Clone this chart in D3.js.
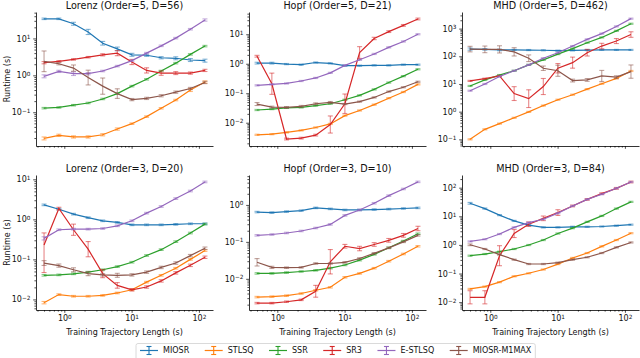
<!DOCTYPE html>
<html>
<head>
<meta charset="utf-8">
<script src="https://cdnjs.cloudflare.com/ajax/libs/d3/7.8.5/d3.min.js"></script>
<style>
  body { margin: 0; background: #fff; }
  svg { display: block; font-family: "DejaVu Sans", sans-serif; }
</style>
</head>
<body>
<svg id="chart"></svg>
<script>
const methods = ["MIOSR", "STLSQ", "SSR", "SR3", "E-STLSQ", "MIOSR-M1MAX"];
const colors = ["#1f77b4", "#ff7f0e", "#2ca02c", "#d62728", "#9467bd", "#8c564b"];
const trainLength = [0.5, 0.83, 1.37, 2.26, 3.72, 6.13, 10.1, 16.7, 27.5, 45.3, 74.7, 123];

// runtime (s), one row per method in the order above
const lorenz5 = [
    [34, 34, 25, 15, 7.4, 5.2, 3.6, 3.5, 3.0, 2.9, 2.6, 2.5],
    [0.0195, 0.0237, 0.0214, 0.0214, 0.0245, 0.035, 0.049, 0.076, 0.128, 0.214, 0.40, 0.66],
    [0.129, 0.135, 0.155, 0.178, 0.229, 0.32, 0.51, 0.78, 1.31, 2.14, 3.7, 6.2],
    [2.2, 2.4, 2.7, 3.1, 3.6, 4.0, 2.3, 1.36, 1.15, 1.15, 1.15, 1.36],
    [0.94, 1.28, 1.11, 1.11, 1.31, 1.78, 2.5, 4.0, 6.3, 10.2, 17.8, 31.6],
    [2.4, 2.06, 1.57, 0.87, 0.51, 0.32, 0.22, 0.237, 0.28, 0.35, 0.44, 0.64]
];
// error bar half-width in decades ([down, up] where lopsided)
const lorenz5Err = [
    [0.02, 0.02, 0.04, 0.07, 0.05, 0.05, 0.04, 0.03, 0.03, 0.04, 0.04, 0.04],
    [0.04, 0.03, 0.03, 0.03, 0.03, 0.03, 0.02, 0.02, 0.02, 0.02, 0.04, 0.03],
    [0.02, 0.02, 0.02, 0.02, 0.02, 0.02, 0.02, 0.02, 0.02, 0.02, 0.02, 0.02],
    [0.03, 0.02, 0.02, 0.02, 0.03, 0.07, 0.07, 0.07, 0.06, 0.04, 0.03, 0.03],
    [0.04, 0.03, 0.05, 0.03, 0.02, 0.02, 0.02, 0.02, 0.02, 0.02, 0.02, 0.03],
    [0.28, 0.03, 0.085, 0.2, 0.22, 0.13, 0.03, 0.03, 0.03, 0.03, 0.03, 0.03]
];

const hopf5 = [
    [1.05, 1.05, 0.975, 0.93, 1.1, 1.03, 0.86, 0.86, 0.88, 0.88, 0.93, 0.93],
    [0.0039, 0.0041, 0.0047, 0.0055, 0.0069, 0.0091, 0.0174, 0.026, 0.041, 0.068, 0.11, 0.20],
    [0.027, 0.029, 0.032, 0.033, 0.038, 0.044, 0.060, 0.085, 0.135, 0.23, 0.38, 0.65],
    [1.8, 0.21, 0.0028, 0.003, 0.0038, 0.0087, 0.044, 2.4, 7.2, 12.3, 20, 33],
    [0.185, 0.2, 0.215, 0.26, 0.33, 0.49, 0.88, 1.36, 2.15, 3.6, 5.7, 10],
    [0.043, 0.034, 0.033, 0.036, 0.044, 0.049, 0.043, 0.052, 0.072, 0.114, 0.16, 0.245]
];
const hopf5Err = [
    [0.03, 0.03, 0.02, 0.02, 0.02, 0.02, 0.02, 0.02, 0.02, 0.02, 0.02, 0.02],
    [0.02, 0.02, 0.02, 0.02, 0.02, 0.02, 0.02, 0.02, 0.02, 0.02, 0.02, 0.02],
    [0.02, 0.02, 0.02, 0.02, 0.02, 0.02, 0.02, 0.02, 0.02, 0.02, 0.02, 0.02],
    [0.03, 0.36, 0.03, 0.03, 0.03, 0.29, 0.33, 0.2, 0.04, 0.03, 0.03, 0.03],
    [0.02, 0.02, 0.02, 0.02, 0.02, 0.02, 0.02, 0.02, 0.02, 0.02, 0.02, 0.02],
    [0.05, 0.03, 0.03, 0.03, 0.03, 0.03, 0.02, 0.02, 0.02, 0.02, 0.02, 0.02]
];

const mhd5 = [
    [182, 178, 170, 170, 168, 165, 160, 163, 168, 170, 170, 170],
    [0.1, 0.23, 0.37, 0.6, 0.98, 1.66, 2.7, 4.1, 6.5, 10.2, 16, 29.5],
    [8.5, 14, 21, 30, 49, 74, 120, 190, 310, 480, 830, 1500],
    [12.9, 15.5, 19.5, 4.5, 2.95, 8.1, 37, 59, 135, 234, 355, 610],
    [5.7, 10, 18.6, 30, 49, 85, 135, 234, 407, 660, 1200, 2290],
    [182, 178, 178, 145, 85, 37, 30, 13.3, 14, 19.5, 17.6, 28]
];
const mhd5Err = [
    [0.04, 0.03, 0.03, 0.02, 0.02, 0.02, 0.02, 0.02, 0.02, 0.02, 0.02, 0.02],
    [0.02, 0.02, 0.02, 0.02, 0.02, 0.02, 0.02, 0.02, 0.02, 0.02, 0.02, 0.02],
    [0.02, 0.02, 0.02, 0.02, 0.02, 0.02, 0.02, 0.02, 0.02, 0.02, 0.02, 0.02],
    [0.02, 0.02, 0.02, 0.25, 0.32, 0.29, 0.17, 0.2, 0.12, 0.1, 0.09, 0.1],
    [0.02, 0.02, 0.02, 0.02, 0.02, 0.02, 0.02, 0.02, 0.02, 0.02, 0.02, 0.02],
    [0.1, 0.12, 0.13, 0.15, 0.12, 0.08, 0.2, 0.05, 0.05, 0.2, 0.05, 0.24]
];

const lorenz3 = [
    [2.3, 1.79, 1.35, 1.1, 0.92, 0.84, 0.73, 0.73, 0.73, 0.75, 0.776, 0.776],
    [0.0083, 0.0132, 0.012, 0.012, 0.0126, 0.0145, 0.0174, 0.027, 0.04, 0.06, 0.10, 0.166],
    [0.04, 0.041, 0.0436, 0.048, 0.055, 0.066, 0.085, 0.125, 0.175, 0.277, 0.455, 0.76],
    [0.23, 1.87, 0.55, 0.18, 0.044, 0.0224, 0.0174, 0.0204, 0.029, 0.046, 0.071, 0.113],
    [0.335, 0.55, 0.57, 0.57, 0.59, 0.69, 0.92, 1.43, 2.09, 3.3, 5.1, 8.6],
    [0.081, 0.07, 0.055, 0.044, 0.041, 0.04, 0.041, 0.048, 0.063, 0.081, 0.124, 0.19]
];
const lorenz3Err = [
    [0.02, 0.02, 0.02, 0.02, 0.02, 0.02, 0.02, 0.02, 0.02, 0.02, 0.02, 0.02],
    [0.03, 0.02, 0.02, 0.02, 0.02, 0.02, 0.02, 0.02, 0.02, 0.02, 0.02, 0.02],
    [0.02, 0.02, 0.02, 0.02, 0.02, 0.02, 0.02, 0.02, 0.02, 0.02, 0.02, 0.02],
    [[0.69, 0.3], 0.03, 0.14, 0.19, 0.1, 0.07, 0.03, 0.03, 0.03, 0.03, 0.03, 0.03],
    [0.04, 0.02, 0.02, 0.02, 0.02, 0.02, 0.02, 0.02, 0.02, 0.02, 0.02, 0.02],
    [0.06, 0.04, 0.05, 0.05, 0.03, 0.05, 0.03, 0.03, 0.03, 0.03, 0.03, 0.03]
];

const hopf3 = [
    [0.64, 0.62, 0.66, 0.70, 0.83, 0.78, 0.73, 0.73, 0.75, 0.77, 0.80, 0.83],
    [0.0032, 0.0033, 0.0035, 0.004, 0.0049, 0.0059, 0.011, 0.014, 0.0194, 0.030, 0.047, 0.076],
    [0.014, 0.014, 0.0148, 0.0158, 0.017, 0.0194, 0.0237, 0.032, 0.046, 0.069, 0.105, 0.166],
    [0.0022, 0.0022, 0.0024, 0.0027, 0.0046, 0.029, 0.076, 0.066, 0.085, 0.11, 0.15, 0.23],
    [0.15, 0.158, 0.174, 0.197, 0.237, 0.297, 0.52, 0.73, 1.11, 1.78, 2.7, 4.2],
    [0.028, 0.0204, 0.02, 0.0204, 0.026, 0.026, 0.028, 0.0355, 0.049, 0.069, 0.1, 0.15]
];
const hopf3Err = [
    [0.02, 0.02, 0.02, 0.02, 0.02, 0.02, 0.02, 0.02, 0.02, 0.02, 0.02, 0.02],
    [0.02, 0.02, 0.02, 0.02, 0.02, 0.02, 0.02, 0.02, 0.02, 0.02, 0.02, 0.02],
    [0.02, 0.02, 0.02, 0.02, 0.02, 0.02, 0.02, 0.02, 0.02, 0.02, 0.02, 0.02],
    [0.02, 0.02, 0.02, 0.02, 0.16, 0.33, 0.05, 0.06, 0.05, 0.05, 0.05, 0.06],
    [0.02, 0.02, 0.02, 0.02, 0.02, 0.02, 0.02, 0.02, 0.02, 0.02, 0.02, 0.02],
    [0.1, 0.03, 0.02, 0.02, 0.02, 0.02, 0.02, 0.02, 0.02, 0.02, 0.02, 0.02]
];

const mhd3 = [
    [28.5, 18.6, 11, 6.9, 4.9, 4.1, 4.1, 4.3, 4.3, 4.4, 4.7, 5.1],
    [0.029, 0.035, 0.05, 0.08, 0.102, 0.138, 0.214, 0.35, 0.52, 0.89, 1.48, 2.57],
    [0.42, 0.48, 0.58, 0.72, 0.99, 1.48, 2.5, 3.85, 6.4, 10.3, 18.6, 32],
    [0.0148, 0.0148, 0.42, 2.5, 5.3, 8.5, 13.5, 23, 39, 62, 95, 158],
    [1.32, 1.58, 2.4, 4.1, 6.0, 7.9, 12.9, 23, 39, 59, 95, 158],
    [1.01, 0.72, 0.46, 0.305, 0.215, 0.215, 0.24, 0.305, 0.37, 0.52, 0.82, 1.22]
];
const mhd3Err = [
    [0.03, 0.02, 0.02, 0.02, 0.02, 0.02, 0.02, 0.02, 0.02, 0.02, 0.02, 0.02],
    [0.02, 0.02, 0.02, 0.02, 0.02, 0.02, 0.02, 0.02, 0.02, 0.02, 0.02, 0.02],
    [0.02, 0.02, 0.02, 0.02, 0.02, 0.02, 0.02, 0.02, 0.02, 0.02, 0.02, 0.02],
    [0.23, 0.23, 0.35, 0.14, 0.08, 0.08, 0.1, 0.03, 0.03, 0.03, 0.03, 0.03],
    [0.02, 0.02, 0.02, 0.02, 0.02, 0.02, 0.02, 0.02, 0.02, 0.02, 0.02, 0.02],
    [0.03, 0.02, 0.02, 0.02, 0.02, 0.02, 0.02, 0.02, 0.02, 0.02, 0.02, 0.02]
];

const panels = [
    { title: "Lorenz (Order=5, D=56)", runtime: lorenz5, err: lorenz5Err },
    { title: "Hopf (Order=5, D=21)", runtime: hopf5, err: hopf5Err },
    { title: "MHD (Order=5, D=462)", runtime: mhd5, err: mhd5Err },
    { title: "Lorenz (Order=3, D=20)", runtime: lorenz3, err: lorenz3Err },
    { title: "Hopf (Order=3, D=10)", runtime: hopf3, err: hopf3Err },
    { title: "MHD (Order=3, D=84)", runtime: mhd3, err: mhd3Err }
];

const width = 640;
const height = 358;
const axW = 177;
const lefts = [36, 249, 462];
const rows = [{ top: 12, bottom: 146 }, { top: 175, bottom: 310 }];
const fontSize = 8;

const svg = d3.select("#chart").attr("width", width).attr("height", height);

// log extent padded by 5% like matplotlib autoscale
function paddedLog(lo, hi) {
    const pad = (hi - lo) * 0.05;
    return [10 ** (lo - pad), 10 ** (hi + pad)];
}

function logTicks(domain) {
    const major = [], minor = [];
    const a = Math.floor(Math.log10(domain[0])), b = Math.ceil(Math.log10(domain[1]));
    for (let e = a; e <= b; e++) {
        for (let k = 1; k < 10; k++) {
            const v = k * 10 ** e;
            if (v < domain[0] * 0.9999 || v > domain[1] * 1.0001) continue;
            (k === 1 ? major : minor).push(v);
        }
    }
    return { major, minor };
}

function powLabel(sel) {
    sel.each(function (d) {
        const e = Math.round(Math.log10(d));
        const t = d3.select(this).text(null);
        t.append("tspan").text("10");
        t.append("tspan").attr("dy", "-0.45em").attr("font-size", "0.72em")
            .text(String(e).replace("-", "\u2212"));
    });
}

const errDown = e => Array.isArray(e) ? e[0] : e;
const errUp = e => Array.isArray(e) ? e[1] : e;

const xDomain = paddedLog(Math.log10(d3.min(trainLength)), Math.log10(d3.max(trainLength)));

panels.forEach((p, i) => {
    const col = i % 3, row = Math.floor(i / 3);
    const x0 = lefts[col];
    const { top, bottom } = rows[row];

    let lo = Infinity, hi = -Infinity;
    p.runtime.forEach((s, k) => s.forEach((v, j) => {
        lo = Math.min(lo, Math.log10(v) - errDown(p.err[k][j]));
        hi = Math.max(hi, Math.log10(v) + errUp(p.err[k][j]));
    }));

    const x = d3.scaleLog().domain(xDomain).range([x0, x0 + axW]);
    const y = d3.scaleLog().domain(paddedLog(lo, hi)).range([bottom, top]);

    const g = svg.append("g");

    const yt = logTicks(y.domain());
    const xt = logTicks(x.domain());

    g.append("g")
        .attr("transform", `translate(${x0},0)`)
        .call(d3.axisLeft(y).tickValues(yt.minor).tickSize(1.6).tickSizeOuter(0).tickFormat(""))
        .call(a => a.select(".domain").remove());
    const yAxis = g.append("g")
        .attr("transform", `translate(${x0},0)`)
        .call(d3.axisLeft(y).tickValues(yt.major).tickSize(2.8).tickSizeOuter(0).tickPadding(2.8));
    yAxis.selectAll(".tick text").call(powLabel);

    g.append("g")
        .attr("transform", `translate(0,${bottom})`)
        .call(d3.axisBottom(x).tickValues(xt.minor).tickSize(1.6).tickSizeOuter(0).tickFormat(""))
        .call(a => a.select(".domain").remove());
    const xAxis = g.append("g")
        .attr("transform", `translate(0,${bottom})`)
        .call(d3.axisBottom(x).tickValues(xt.major).tickSize(2.8).tickSizeOuter(0).tickPadding(2.8));
    if (row === 1) xAxis.selectAll(".tick text").call(powLabel);
    else xAxis.selectAll(".tick text").remove();

    g.selectAll(".domain").attr("stroke", "#000").attr("stroke-width", 0.8);
    g.selectAll(".tick line").attr("stroke", "#000").attr("stroke-width", 0.7);
    g.selectAll(".tick text").attr("font-size", fontSize).attr("fill", "#111")
        .attr("font-family", "DejaVu Sans");

    g.append("text")
        .attr("x", x0 + axW / 2).attr("y", top - 3)
        .attr("text-anchor", "middle")
        .attr("font-size", 9.6).attr("fill", "#111")
        .text(p.title);

    if (col === 0) {
        g.append("text")
            .attr("transform", `translate(10,${(top + bottom) / 2}) rotate(-90)`)
            .attr("text-anchor", "middle")
            .attr("font-size", fontSize).attr("fill", "#111")
            .text("Runtime (s)");
    }
    if (row === 1) {
        g.append("text")
            .attr("x", x0 + axW / 2).attr("y", 334.5)
            .attr("text-anchor", "middle")
            .attr("font-size", fontSize).attr("fill", "#111")
            .text("Training Trajectory Length (s)");
    }

    // series with error bars
    const line = d3.line().x(d => x(d.t)).y(d => y(d.v));
    p.runtime.forEach((s, k) => {
        const pts = s.map((v, j) => ({
            t: trainLength[j], v,
            lo: v / 10 ** errDown(p.err[k][j]),
            hi: v * 10 ** errUp(p.err[k][j])
        }));
        const sg = g.append("g");
        sg.append("path")
            .datum(pts)
            .attr("d", line)
            .attr("fill", "none")
            .attr("stroke", colors[k])
            .attr("stroke-width", 1.2);
        const eb = sg.selectAll(".eb").data(pts).enter().append("g")
            .attr("stroke", colors[k])
            .attr("stroke-opacity", 0.55)
            .attr("stroke-width", 1.1);
        eb.append("line")
            .attr("x1", d => x(d.t)).attr("x2", d => x(d.t))
            .attr("y1", d => y(d.lo)).attr("y2", d => y(d.hi));
        eb.append("line")
            .attr("x1", d => x(d.t) - 2.5).attr("x2", d => x(d.t) + 2.5)
            .attr("y1", d => y(d.lo)).attr("y2", d => y(d.lo));
        eb.append("line")
            .attr("x1", d => x(d.t) - 2.5).attr("x2", d => x(d.t) + 2.5)
            .attr("y1", d => y(d.hi)).attr("y2", d => y(d.hi));
    });
});

// legend
const legend = svg.append("g");
const box = legend.append("rect")
    .attr("y", 343.5).attr("height", 20).attr("rx", 2)
    .attr("fill", "#fff").attr("stroke", "#d0d0d0").attr("stroke-width", 0.8);
let cx = 0;
const items = [];
methods.forEach((m, k) => {
    const it = legend.append("g");
    it.append("line").attr("x1", 0).attr("x2", 18).attr("y1", 350.5).attr("y2", 350.5)
        .attr("stroke", colors[k]).attr("stroke-width", 1.2);
    it.append("line").attr("x1", 9).attr("x2", 9).attr("y1", 346.5).attr("y2", 354.5)
        .attr("stroke", colors[k]).attr("stroke-width", 1.1);
    it.append("line").attr("x1", 6.5).attr("x2", 11.5).attr("y1", 346.5).attr("y2", 346.5)
        .attr("stroke", colors[k]).attr("stroke-width", 1.1);
    it.append("line").attr("x1", 6.5).attr("x2", 11.5).attr("y1", 354.5).attr("y2", 354.5)
        .attr("stroke", colors[k]).attr("stroke-width", 1.1);
    const t = it.append("text").attr("x", 23).attr("y", 353.3)
        .attr("font-size", fontSize).attr("fill", "#111").text(m);
    items.push({ it, x: cx });
    cx += 23 + t.node().getComputedTextLength() + 15.5;
});
const legW = cx - 15.5;
const legX0 = 140;
items.forEach(d => d.it.attr("transform", `translate(${legX0 + d.x},0)`));
box.attr("x", legX0 - 4).attr("width", legW + 8);
</script>
</body>
</html>
